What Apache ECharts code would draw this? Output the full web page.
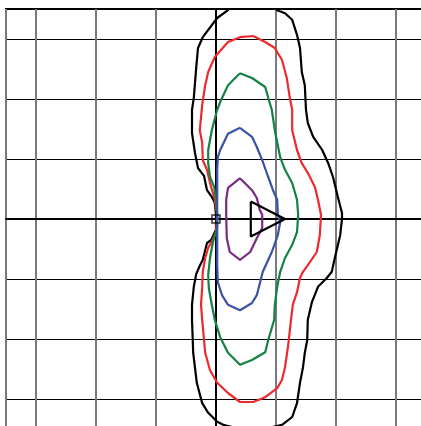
<!DOCTYPE html>
<html>
<head>
<meta charset="utf-8">
<script src="https://cdn.jsdelivr.net/npm/echarts@6/dist/echarts.min.js"></script>
<style>
  html, body { margin: 0; padding: 0; background: #fff; }
  #chart { width: 421px; height: 426px; }
</style>
</head>
<body>
<div id="chart"></div>
<script>
// contour lines, [x, y] in grid units (one grid cell = 1)
var blackLine = [
  [0.25, 3.6], [0.2, 3.48], [0.02, 3.35], [-0.22, 3.03], [-0.3, 2.85], [-0.33, 2.52],
  [-0.37, 2.02], [-0.4, 1.82], [-0.4, 1.43], [-0.35, 1.1], [-0.3, 0.85], [-0.2, 0.72],
  [-0.15, 0.48], [-0.07, 0.37], [-0.02, 0.27], [0, 0.07], [0, -0.18], [-0.08, -0.35],
  [-0.15, -0.4], [-0.22, -0.68], [-0.28, -0.8], [-0.33, -0.92], [-0.37, -1.13],
  [-0.4, -1.43], [-0.4, -1.68], [-0.38, -2.23], [-0.32, -2.73], [-0.23, -3.07],
  [-0.13, -3.23], [0.02, -3.38], [0.12, -3.43], [0.6, -3.55], [1.1, -3.43],
  [1.27, -3.3], [1.35, -3.07], [1.4, -2.73], [1.45, -2.47], [1.48, -2.23],
  [1.52, -2.02], [1.53, -1.68], [1.6, -1.38], [1.7, -1.13], [1.85, -0.98],
  [1.93, -0.88], [1.98, -0.65], [2.07, -0.27], [2.1, 0], [2.1, 0.1], [2.03, 0.37],
  [1.95, 0.7], [1.87, 0.93], [1.77, 1.15], [1.62, 1.37], [1.53, 1.6], [1.5, 1.82],
  [1.48, 2.23], [1.43, 2.45], [1.4, 2.85], [1.35, 3.07], [1.27, 3.32], [1.15, 3.43],
  [1.02, 3.48], [0.93, 3.6], [0.25, 3.6]
];
var redLine = [
  [0.62, 3.05], [0.4, 3.03], [0.2, 2.95], [-0.02, 2.7], [-0.13, 2.45], [-0.18, 2.23],
  [-0.23, 1.9], [-0.27, 1.48], [-0.23, 1.27], [-0.22, 0.98], [-0.15, 0.82], [-0.1, 0.6],
  [-0.05, 0.43], [-0.02, 0.32], [0.02, 0.07], [0, -0.22], [-0.07, -0.38],
  [-0.13, -0.48], [-0.18, -0.65], [-0.22, -0.88], [-0.23, -1.13], [-0.25, -1.43],
  [-0.23, -1.68], [-0.18, -2.23], [-0.1, -2.52], [0.02, -2.73], [0.2, -2.9],
  [0.4, -3.05], [0.62, -3.05], [0.82, -2.97], [1.02, -2.82], [1.1, -2.68],
  [1.15, -2.47], [1.2, -2.13], [1.25, -1.68], [1.28, -1.43], [1.35, -1.22],
  [1.4, -0.98], [1.45, -0.88], [1.53, -0.77], [1.68, -0.55], [1.73, -0.27],
  [1.75, 0.07], [1.7, 0.32], [1.65, 0.53], [1.53, 0.77], [1.43, 0.93], [1.35, 1.15],
  [1.27, 1.48], [1.27, 1.82], [1.23, 2.02], [1.18, 2.35], [1.1, 2.65], [0.98, 2.85],
  [0.82, 2.95], [0.62, 3.05]
];
var greenLine = [
  [0.4, 2.43], [0.2, 2.23], [0.07, 1.95], [0.02, 1.82], [-0.07, 1.48], [-0.13, 1.15],
  [-0.13, 0.93], [-0.1, 0.7], [-0.03, 0.53], [0, 0.32], [0.02, 0.07], [0.02, -0.15],
  [-0.05, -0.38], [-0.1, -0.65], [-0.13, -0.93], [-0.12, -1.15], [-0.07, -1.43],
  [-0.02, -1.68], [0.07, -1.97], [0.2, -2.23], [0.4, -2.43], [0.6, -2.35],
  [0.82, -2.22], [0.87, -2.02], [0.92, -1.85], [0.97, -1.68], [0.98, -1.43],
  [1.02, -1.13], [1.07, -0.88], [1.15, -0.65], [1.27, -0.43], [1.35, -0.22],
  [1.37, 0.07], [1.35, 0.32], [1.27, 0.6], [1.15, 0.82], [1.07, 1.03], [0.98, 1.48],
  [0.93, 1.82], [0.87, 2.02], [0.82, 2.2], [0.6, 2.35], [0.4, 2.43]
];
var blueLine = [
  [0.4, 1.52], [0.2, 1.42], [0.07, 1.15], [0.03, 1.03], [0.02, 0.82], [0.02, 0.07],
  [0.02, -0.77], [0.03, -1.05], [0.1, -1.27], [0.2, -1.43], [0.4, -1.52], [0.6, -1.4],
  [0.68, -1.27], [0.78, -0.88], [0.93, -0.55], [1.03, -0.27], [1.07, -0.05],
  [1.03, 0.07], [1.02, 0.32], [0.95, 0.48], [0.87, 0.7], [0.77, 0.98], [0.68, 1.2],
  [0.6, 1.37], [0.4, 1.52]
];
var purpleLine = [
  [0.4, 0.68], [0.2, 0.52], [0.17, 0.32], [0.17, 0.07], [0.18, -0.32], [0.23, -0.55],
  [0.4, -0.68], [0.57, -0.55], [0.68, -0.32], [0.77, -0.15], [0.77, 0.07],
  [0.73, 0.15], [0.68, 0.35], [0.6, 0.48], [0.4, 0.68]
];
var triangle = [[0.58, 0.29], [0.58, -0.29], [1.15, 0], [0.58, 0.29]];
var source = [[0, 0]];

var chart = echarts.init(document.getElementById('chart'));

function contour(data, color) {
  return {
    type: 'line',
    data: data,
    showSymbol: false,
    smooth: false,
    lineStyle: { color: color, width: 2.2 },
    z: 3
  };
}

var option = {
  animation: false,
  backgroundColor: '#fff',
  grid: {
    left: 6, top: 9, width: 420, height: 420,
    outerBoundsMode: 'none',
    show: true, borderColor: '#000', borderWidth: 2
  },
  xAxis: {
    type: 'value', min: -3.5, max: 3.5, splitNumber: 7,
    axisLine: { show: true, onZero: true, lineStyle: { color: '#000', width: 2 } },
    axisTick: { show: false },
    axisLabel: { show: false },
    splitLine: { show: true, lineStyle: { color: '#7a7a7a', width: 2 } }
  },
  yAxis: {
    type: 'value', min: -3.5, max: 3.5, splitNumber: 7,
    axisLine: { show: true, onZero: true, lineStyle: { color: '#000', width: 2 } },
    axisTick: { show: false },
    axisLabel: { show: false },
    splitLine: { show: true, lineStyle: { color: '#000', width: 1 } }
  },
  series: [
    contour(blackLine, '#000000'),
    contour(redLine, '#ee2a2e'),
    contour(greenLine, '#138243'),
    contour(blueLine, '#3a52a6'),
    contour(purpleLine, '#7a2a82'),
    contour(triangle, '#000000'),
    {
      type: 'scatter',
      data: source,
      symbol: 'rect',
      symbolSize: 8,
      itemStyle: { color: 'transparent', borderColor: '#000', borderWidth: 1.5 },
      z: 4
    }
  ]
};

chart.setOption(option);
</script>
</body>
</html>
